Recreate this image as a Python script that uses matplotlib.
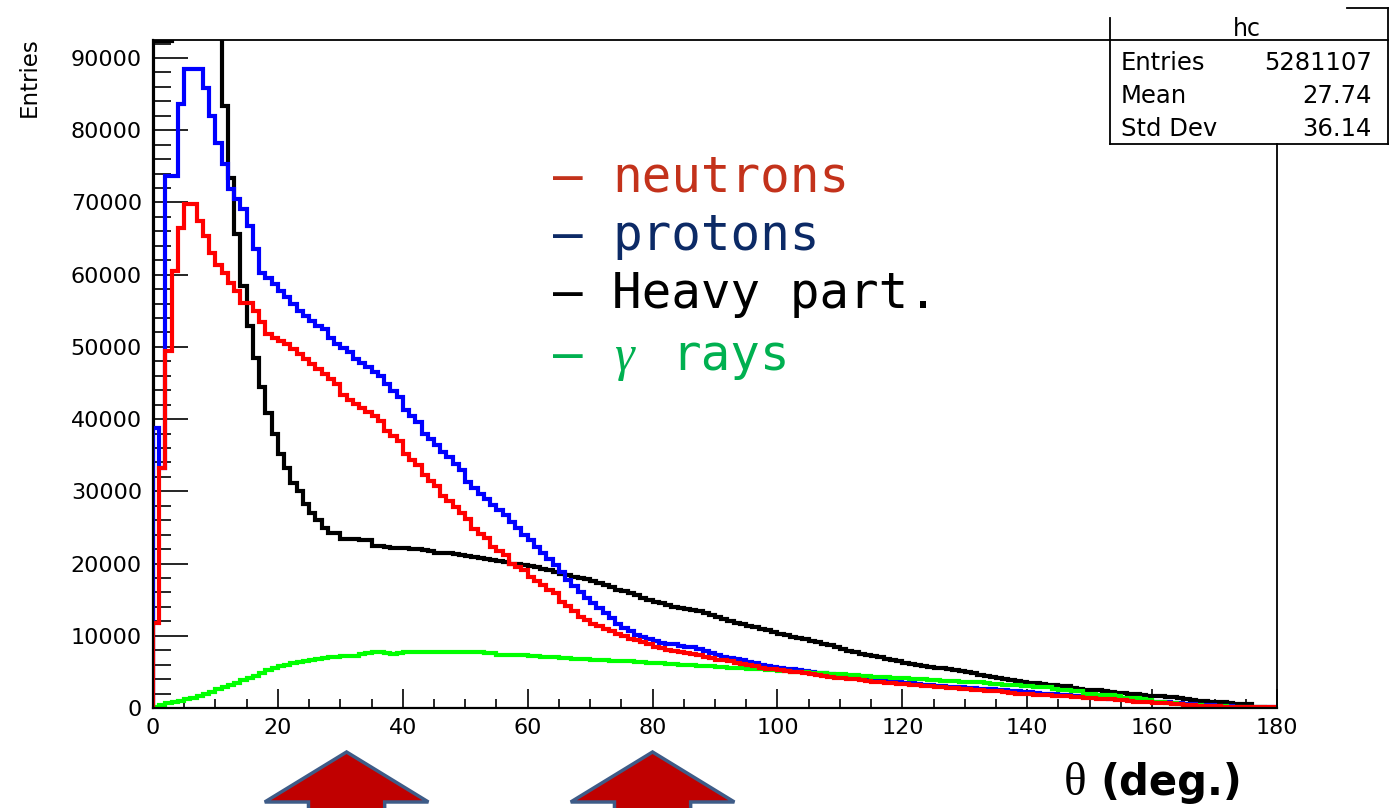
import numpy as np
import matplotlib.pyplot as plt
from matplotlib.lines import Line2D
from matplotlib.patches import Polygon
from matplotlib.ticker import MultipleLocator
from matplotlib.transforms import blended_transform_factory

# theta histograms, 1 degree bins from 0 to 180
edges = np.arange(0, 181, 1)

neutrons = [
    11750, 33200, 49500, 60500, 66500, 69800, 69800, 67400, 65400, 63000,
    61300, 60300, 58900, 57800, 56100, 56100, 55000, 53400, 51800, 51300,
    50800, 50400, 49700, 49000, 48300, 47700, 47000, 46300, 45600, 44900,
    43300, 42700, 42100, 41500, 41000, 40400, 39800, 38400, 37700, 37000,
    35200, 34400, 33600, 32200, 31500, 30800, 29400, 28600, 27800, 27000,
    26200, 24800, 24100, 23500, 22300, 21800, 21200, 20000, 19500, 19100,
    18200, 17600, 17000, 16400, 15900, 14700, 14100, 13500, 12600, 12200,
    11700, 11300, 11000, 10600, 10300, 10000, 9600, 9400, 9200, 8800,
    8500, 8300, 8000, 7900, 7700, 7600, 7500, 7300, 7000, 6900,
    6700, 6600, 6500, 6300, 6100, 5950, 5800, 5600, 5450, 5350,
    5250, 5100, 5000, 4950, 4800, 4650, 4550, 4450, 4350, 4200,
    4100, 4050, 3950, 3850, 3750, 3650, 3600, 3500, 3450, 3350,
    3300, 3250, 3200, 3100, 3000, 2950, 2900, 2800, 2750, 2700,
    2600, 2500, 2450, 2400, 2350, 2300, 2250, 2100, 2000, 1950,
    1900, 1850, 1800, 1750, 1700, 1650, 1600, 1550, 1500, 1450,
    1400, 1300, 1250, 1200, 1150, 1050, 950, 900, 850, 800,
    750, 720, 680, 620, 560, 420, 350, 320, 300, 280,
    260, 200, 170, 150, 140, 130, 120, 110, 100, 90,
]

protons = [
    38800, 33300, 73700, 73700, 83600, 88500, 88500, 88500, 85900, 82000,
    78200, 75300, 71900, 70500, 69100, 66800, 63600, 60300, 59500, 58700,
    57800, 56900, 56000, 55000, 54300, 53600, 52900, 52500, 51300, 50400,
    49900, 49300, 48300, 47800, 47200, 46500, 46000, 44900, 43900, 43000,
    41200, 40400, 39600, 38000, 37200, 36400, 35500, 34700, 33800, 32900,
    31300, 30500, 29700, 28900, 28100, 27400, 26700, 25800, 24900, 24000,
    23200, 22300, 21400, 20600, 19800, 18800, 17700, 16900, 16100, 15300,
    14500, 13800, 13100, 12400, 11700, 11100, 10600, 10100, 9800, 9600,
    9300, 9000, 8900, 8800, 8600, 8500, 8450, 8200, 7900, 7600,
    7300, 7050, 6900, 6750, 6600, 6400, 6200, 5950, 5800, 5650,
    5500, 5400, 5340, 5200, 5100, 5000, 4900, 4800, 4700, 4600,
    4450, 4350, 4250, 4150, 4050, 3950, 3850, 3750, 3650, 3550,
    3500, 3400, 3350, 3250, 3200, 3100, 3000, 2950, 2900, 2850,
    2800, 2750, 2700, 2650, 2600, 2500, 2450, 2400, 2350, 2250,
    2150, 2100, 2000, 1950, 1900, 1850, 1750, 1700, 1650, 1560,
    1500, 1450, 1400, 1300, 1250, 1200, 1100, 1050, 1000, 950,
    900, 850, 800, 700, 650, 550, 500, 450, 400, 350,
    300, 250, 220, 200, 180, 160, 140, 120, 100, 80,
]

heavy = [
    92300, 92300, 92300, 150000, 260000, 380000, 440000, 420000, 380000, 320000,
    260000, 83400, 73400, 65700, 58500, 52950, 48500, 44400, 40800, 38000,
    35200, 33300, 31100, 30100, 28300, 27000, 26000, 24900, 24200, 24200,
    23400, 23400, 23400, 23300, 23200, 22500, 22400, 22300, 22200, 22100,
    22100, 22000, 22000, 21900, 21700, 21500, 21500, 21400, 21300, 21200,
    21000, 20900, 20800, 20700, 20500, 20300, 20200, 20000, 19900, 19800,
    19700, 19500, 19300, 19100, 18900, 18600, 18400, 18200, 18000, 17800,
    17600, 17300, 17000, 16700, 16400, 16200, 15900, 15600, 15300, 15000,
    14700, 14500, 14200, 14000, 13800, 13700, 13600, 13400, 13100, 12900,
    12600, 12300, 12100, 11800, 11600, 11400, 11200, 11000, 10800, 10500,
    10300, 10100, 9900, 9700, 9600, 9300, 9100, 8900, 8700, 8500,
    8200, 7900, 7700, 7500, 7400, 7200, 7000, 6800, 6600, 6450,
    6300, 6100, 5900, 5800, 5700, 5600, 5500, 5400, 5300, 5100,
    4950, 4800, 4600, 4450, 4350, 4200, 4050, 3850, 3700, 3600,
    3500, 3400, 3300, 3250, 3200, 3100, 3000, 2750, 2600, 2550,
    2500, 2450, 2350, 2200, 2100, 2050, 2000, 1950, 1850, 1700,
    1650, 1600, 1550, 1500, 1400, 1200, 1050, 1000, 950, 900,
    850, 800, 650, 600, 580, 550, 0, 0, 0, 0,
]

gammas = [
    200, 450, 650, 850, 1000, 1250, 1450, 1700, 1950, 2200,
    2600, 2900, 3200, 3500, 3900, 4200, 4500, 4900, 5200, 5500,
    5750, 6000, 6200, 6350, 6500, 6700, 6850, 6950, 7050, 7100,
    7150, 7150, 7200, 7450, 7650, 7700, 7700, 7650, 7500, 7550,
    7700, 7750, 7750, 7750, 7800, 7750, 7750, 7750, 7700, 7750,
    7750, 7700, 7700, 7650, 7600, 7400, 7350, 7350, 7300, 7300,
    7250, 7150, 7050, 7050, 7000, 6950, 6900, 6850, 6800, 6750,
    6700, 6650, 6600, 6550, 6550, 6500, 6450, 6400, 6350, 6300,
    6250, 6200, 6150, 6100, 6000, 5950, 5900, 5850, 5800, 5750,
    5700, 5650, 5600, 5550, 5500, 5450, 5400, 5350, 5300, 5200,
    5150, 5100, 5050, 5000, 4950, 4900, 4850, 4800, 4750, 4700,
    4650, 4600, 4550, 4500, 4450, 4350, 4300, 4250, 4200, 4150,
    4100, 4050, 4000, 3950, 3900, 3850, 3800, 3750, 3700, 3650,
    3650, 3600, 3550, 3450, 3350, 3300, 3250, 3200, 3200, 3100,
    3000, 2950, 2900, 2850, 2600, 2500, 2450, 2400, 2350, 2000,
    1900, 1850, 1800, 1750, 1600, 1400, 1350, 1350, 1300, 1100,
    900, 850, 750, 700, 600, 450, 400, 350, 300, 280,
    250, 220, 180, 150, 130, 110, 100, 80, 60, 50,
]

stat_title = 'hc'
stat_names = ['Entries', 'Mean', 'Std Dev']
stat_values = ['5281107', '27.74', '36.14']

legend_labels = ['neutrons', 'protons', 'Heavy part.', 'rays']
legend_colors = ['#C3321B', '#0C2A66', '#000000', '#00B050']

arrow_angles = [31, 80]

W, H = 1396, 808


def fx(px):
    return px / W


def fy(py):
    return 1 - py / H


fig = plt.figure(figsize=(W / 100, H / 100), dpi=100)
ax = fig.add_axes([fx(153), fy(708), (1277 - 153) / W, (708 - 40) / H])

hists = [(heavy, 'black', 2), (protons, '#0000FF', 3),
         (gammas, '#00FF00', 4), (neutrons, '#FF0000', 5)]
for vals, col, z in hists:
    ax.stairs(vals, edges, baseline=0, color=col, lw=3, zorder=z,
              joinstyle='miter')

ax.set_xlim(0, 180)
ax.set_ylim(0, 92500)
ax.xaxis.set_major_locator(MultipleLocator(20))
ax.xaxis.set_minor_locator(MultipleLocator(5))
ax.yaxis.set_major_locator(MultipleLocator(10000))
ax.yaxis.set_minor_locator(MultipleLocator(2000))
ax.tick_params(axis='y', which='major', direction='in', length=25, width=1.2,
               pad=8, labelsize=16)
ax.tick_params(axis='y', which='minor', direction='in', length=13, width=1.2)
ax.tick_params(axis='x', which='major', direction='in', length=13.5, width=1.2,
               pad=7, labelsize=16)
ax.tick_params(axis='x', which='minor', direction='in', length=6.5, width=1.2)
for lab in ax.get_xticklabels() + ax.get_yticklabels():
    lab.set_family('DejaVu Sans')

ax.spines['top'].set_visible(False)
ax.spines['right'].set_visible(False)
ax.spines['left'].set_linewidth(1.6)
ax.spines['bottom'].set_linewidth(1.6)
ax.spines['left'].set_zorder(6)
ax.spines['bottom'].set_zorder(6)

# frame top runs on into the stats box, frame right stops under it
ax.plot([0, (1388 - 153) / (1277 - 153)], [1, 1], transform=ax.transAxes,
        clip_on=False, color='black', lw=1.3, zorder=7)
ax.plot([1, 1], [0, (708 - 144) / (708 - 40)], transform=ax.transAxes,
        clip_on=False, color='black', lw=1.3, zorder=7)

# stats box
box_lines = [((1110, 18), (1110, 144)), ((1110, 144), (1388, 144)),
             ((1388, 8), (1388, 144)), ((1347, 8), (1388, 8))]
for (x0, y0), (x1, y1) in box_lines:
    fig.add_artist(Line2D([fx(x0), fx(x1)], [fy(y0), fy(y1)], color='black',
                          lw=1.3))
fig.text(fx(1247), fy(29), stat_title, ha='center', va='center', fontsize=17,
         family='DejaVu Sans')
for i, (name, val) in enumerate(zip(stat_names, stat_values)):
    yy = fy(63 + 33 * i)
    fig.text(fx(1121), yy, name, ha='left', va='center', fontsize=17.5,
             family='DejaVu Sans')
    fig.text(fx(1372), yy, val, ha='right', va='center', fontsize=17.5,
             family='DejaVu Sans')

fig.text(fx(29), fy(37), 'Entries', rotation=90, ha='center', va='top',
         fontsize=16.5, family='DejaVu Sans')

# legend written as plain text lines, one monospace cell per character
cell = 35.5 * 100 / 72 * 0.602
x0 = 553
baselines = [192, 250, 308, 370]
for i, (lab, col) in enumerate(zip(legend_labels, legend_colors)):
    fig.text(fx(x0), fy(baselines[i]), '–', ha='left', va='baseline',
             fontsize=35.5, family='DejaVu Sans Mono', color=col)
    col_start = 4 if i == 3 else 2
    fig.text(fx(x0 + col_start * cell), fy(baselines[i]), lab, ha='left',
             va='baseline', fontsize=35.5, family='DejaVu Sans Mono',
             color=col)
fig.text(fx(x0 + 2 * cell + 2), fy(baselines[3]), 'γ', ha='left',
         va='baseline', fontsize=36, family='Liberation Serif',
         style='italic', color=legend_colors[3])

# x axis title
fig.text(fx(1064), fy(795), 'θ', ha='left', va='baseline', fontsize=34,
         family='Liberation Serif')
fig.text(fx(1100), fy(795), '(deg.)', ha='left', va='baseline', fontsize=30,
         family='DejaVu Sans', weight='bold')

# block arrows under the x axis
tr = blended_transform_factory(ax.transData, fig.transFigure)
for a in arrow_angles:
    pts = [(a, fy(752)), (a + 13.1, fy(802)), (a + 6.1, fy(802)),
           (a + 6.1, fy(830)), (a - 6.1, fy(830)), (a - 6.1, fy(802)),
           (a - 13.1, fy(802))]
    arr = Polygon(pts, closed=True, transform=tr, facecolor='#C00000',
                  edgecolor='#3E5C88', lw=2.5, joinstyle='miter',
                  clip_on=False)
    fig.add_artist(arr)

fig.savefig('out.png', dpi=100)
